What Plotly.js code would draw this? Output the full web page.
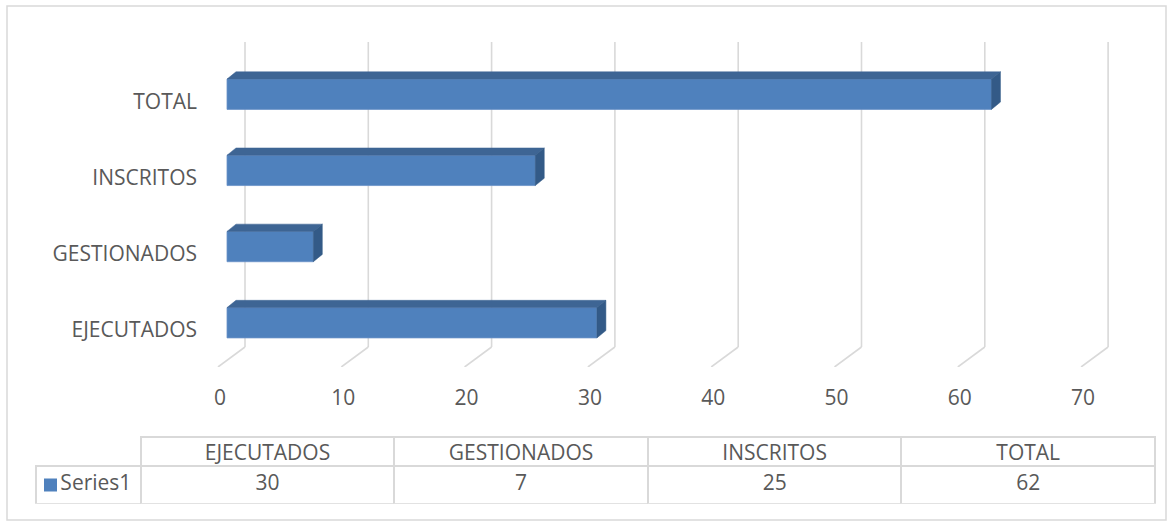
<!DOCTYPE html>
<html>
<head>
<meta charset="utf-8">
<script src="https://cdn.plot.ly/plotly-3.0.1.min.js"></script>
<style>
  html, body { margin: 0; padding: 0; background: #ffffff; }
  #chart { width: 1173px; height: 527px; }
</style>
</head>
<body>
<div id="chart"></div>
<script>
// ---- data ----
const categories = ['EJECUTADOS', 'GESTIONADOS', 'INSCRITOS', 'TOTAL'];
const values = [30, 7, 25, 62];
const xTicks = [0, 10, 20, 30, 40, 50, 60, 70];
const seriesName = 'Series1';

// ---- geometry (pixel scale of the axes, used to express 3D offsets) ----
const PXX = 12.33;            // px per value unit
const PXY = 76.17;            // px per category step
const BASE = 7 / PXX;         // front face starts slightly behind floor edge
const DX = 9 / PXX;           // bar depth (x)
const DY = 7.3 / PXY;         // bar depth (y)
const BAR_W = 30.3 / PXY;     // bar thickness
const BAR_SHIFT = 7.25 / PXY; // bar centre above label
const WALL_DX = 25 / PXX;     // back wall offset
const FLOOR_DX = -2 / PXX;    // floor front offset
const WALL_Y0 = (330 - 347) / PXY;
const Y_RANGE = [(330 - 367) / PXY, (330 - 42) / PXY];
const X_RANGE = [(200 - 220) / PXX, (1120 - 220) / PXX];

const FRONT = '#4f81bd', TOP = '#3e6594', SIDE = '#335a87';
const GRID = '#d9d9d9', TXT = '#595959';
const FONT = 'Open Sans, Noto Sans, DejaVu Sans, sans-serif';
const FS = 21;

const traces = [];

// front faces
traces.push({
  type: 'bar', orientation: 'h',
  y: categories.map((c, i) => i + BAR_SHIFT),
  x: values, base: BASE, width: BAR_W,
  marker: { color: FRONT, line: { color: '#6a92c8', width: 0.8 } },
  hoverinfo: 'skip', showlegend: false
});

// top and side faces
values.forEach((v, i) => {
  const t = i + BAR_SHIFT + BAR_W / 2;
  const b = t - BAR_W;
  traces.push({
    type: 'scatter', mode: 'lines', fill: 'toself', fillcolor: TOP,
    x: [BASE, BASE + v, BASE + v + DX, BASE + DX, BASE],
    y: [t, t, t + DY, t + DY, t],
    line: { color: TOP, width: 0.5 }, hoverinfo: 'skip', showlegend: false
  });
  traces.push({
    type: 'scatter', mode: 'lines', fill: 'toself', fillcolor: SIDE,
    x: [BASE + v, BASE + v + DX, BASE + v + DX, BASE + v, BASE + v],
    y: [t, t + DY, b + DY, b, t],
    line: { color: SIDE, width: 0.5 }, hoverinfo: 'skip', showlegend: false
  });
});

// data table
const legendCell = '\u00a0\u00a0\u00a0' + seriesName;
traces.push({
  type: 'table',
  domain: { x: [0, 1], y: [0, (504 - 436.7) / 498] },
  columnwidth: [104.7, 253.6, 253.6, 253.6, 253.6],
  header: {
    values: [''].concat(categories),
    height: 29.3,
    align: 'center',
    line: { color: ['rgba(0,0,0,0)', GRID, GRID, GRID, GRID], width: 2 },
    fill: { color: ['rgba(0,0,0,0)', '#ffffff', '#ffffff', '#ffffff', '#ffffff'] },
    font: { family: FONT, size: FS, color: TXT }
  },
  cells: {
    values: [[legendCell]].concat(values.map(v => [v])),
    height: 38,
    align: ['left', 'center', 'center', 'center', 'center'],
    line: { color: GRID, width: 2 },
    fill: { color: '#ffffff' },
    font: { family: FONT, size: FS, color: TXT }
  }
});

// gridlines: back wall verticals + floor diagonals
const shapes = [];
xTicks.forEach(v => {
  shapes.push({ type: 'line', xref: 'x', yref: 'y', layer: 'below',
    x0: v + WALL_DX, x1: v + WALL_DX, y0: WALL_Y0, y1: Y_RANGE[1],
    line: { color: GRID, width: 1.6 } });
  shapes.push({ type: 'line', xref: 'x', yref: 'y', layer: 'below',
    x0: v + WALL_DX, x1: v + FLOOR_DX, y0: WALL_Y0, y1: Y_RANGE[0],
    line: { color: GRID, width: 1.6 } });
});
// chart frame
shapes.push({ type: 'rect', xref: 'paper', yref: 'paper', layer: 'below',
  x0: (7 - 36) / 1119, x1: (1166 - 36) / 1119, y0: (504 - 520) / 498, y1: (504 - 6) / 498,
  line: { color: GRID, width: 1.5 }, fillcolor: 'rgba(0,0,0,0)' });
// legend key square in the table
shapes.push({ type: 'rect', xref: 'paper', yref: 'paper', layer: 'above',
  x0: (44 - 36) / 1119, x1: (57 - 36) / 1119, y0: (504 - 491.5) / 498, y1: (504 - 478.5) / 498,
  line: { width: 0 }, fillcolor: FRONT });

const layout = {
  width: 1173, height: 527,
  margin: { l: 36, r: 18, t: 6, b: 23, pad: 0 },
  paper_bgcolor: '#ffffff', plot_bgcolor: 'rgba(0,0,0,0)',
  font: { family: FONT, size: FS, color: TXT },
  showlegend: false,
  xaxis: {
    domain: [(200 - 36) / 1119, (1120 - 36) / 1119],
    range: X_RANGE, fixedrange: true,
    showgrid: false, zeroline: false, showline: false, ticks: '',
    tickmode: 'array', tickvals: xTicks, ticktext: xTicks.map(String),
    ticklabelstandoff: 16,
    tickfont: { family: FONT, size: FS, color: TXT }
  },
  yaxis: {
    domain: [(504 - 367) / 498, (504 - 42) / 498],
    range: Y_RANGE, fixedrange: true,
    showgrid: false, zeroline: false, showline: false, ticks: '',
    tickmode: 'array', tickvals: categories.map((c, i) => i), ticktext: categories,
    ticklabelstandoff: 2,
    tickfont: { family: FONT, size: FS, color: TXT }
  },
  shapes: shapes
};

Plotly.newPlot('chart', traces, layout, { displayModeBar: false, staticPlot: true });
</script>
</body>
</html>
